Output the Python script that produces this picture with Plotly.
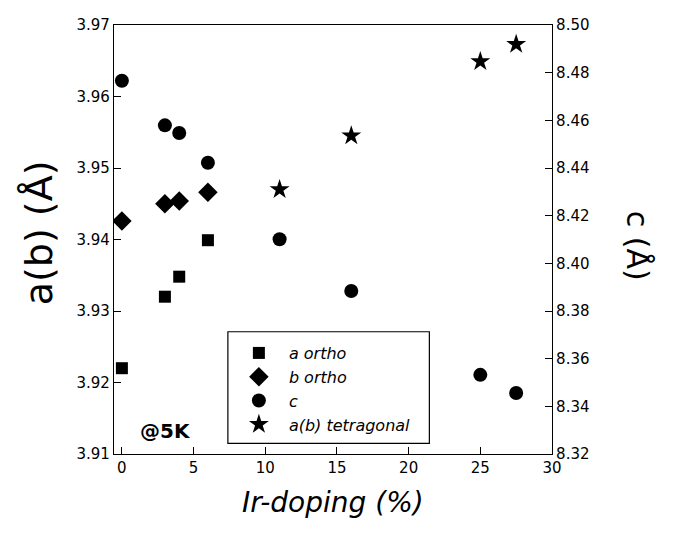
import plotly.graph_objects as go

# Data
a_ortho_x = [0, 3, 4, 6]
a_ortho_y = [3.9220, 3.9320, 3.9348, 3.9399]

b_ortho_x = [0, 3, 4, 6]
b_ortho_y = [3.9426, 3.9450, 3.9454, 3.9466]

c_x = [0, 3, 4, 6, 11, 16, 25, 27.5]
c_y = [8.4766, 8.4579, 8.4547, 8.4422, 8.4101, 8.3884, 8.3532, 8.3456]

tet_x = [11, 16, 25, 27.5]
tet_y = [3.9470, 3.9545, 3.9649, 3.9673]

x_ticks = [0, 5, 10, 15, 20, 25, 30]
left_ticks = [3.91, 3.92, 3.93, 3.94, 3.95, 3.96, 3.97]
right_ticks = [8.32, 8.34, 8.36, 8.38, 8.40, 8.42, 8.44, 8.46, 8.48, 8.50]

FONT = "DejaVu Sans"

fig = go.Figure()
fig.add_trace(go.Scatter(x=a_ortho_x, y=a_ortho_y, mode="markers", name="a ortho",
                         marker=dict(symbol="square", size=12, color="black")))
fig.add_trace(go.Scatter(x=b_ortho_x, y=b_ortho_y, mode="markers", name="b ortho",
                         marker=dict(symbol="diamond", size=15, color="black")))
fig.add_trace(go.Scatter(x=c_x, y=c_y, mode="markers", name="c", yaxis="y2",
                         marker=dict(symbol="circle", size=14, color="black")))
fig.add_trace(go.Scatter(x=tet_x, y=tet_y, mode="markers", name="a(b) tetragonal",
                         marker=dict(symbol="star", size=15, color="black")))

fig.update_layout(
    width=677, height=536,
    margin=dict(l=106, r=133, t=8, b=90),
    paper_bgcolor="white", plot_bgcolor="white",
    font=dict(family=FONT, size=15, color="black"),
    showlegend=True,
    legend=dict(x=0.26, y=0.275, xanchor="left", yanchor="top",
                bgcolor="rgba(0,0,0,0)", borderwidth=0,
                font=dict(family=FONT, size=16, style="italic"),
                itemwidth=50, indentation=1, tracegroupgap=0),
    xaxis=dict(range=[-0.55, 30.0001], tickvals=x_ticks, ticks="inside", ticklen=7,
               tickcolor="black", showline=True, linecolor="black", linewidth=1.2,
               mirror=True, showgrid=False, zeroline=False,
               ticklabeloverflow="allow", tickfont=dict(size=15)),
    yaxis=dict(range=[3.9099999, 3.9700001], tickvals=left_ticks, tickformat=".2f",
               ticks="inside", ticklen=7, tickcolor="black", showline=True,
               linecolor="black", linewidth=1.2, showgrid=False, zeroline=False,
               ticklabeloverflow="allow", tickfont=dict(size=15)),
    yaxis2=dict(range=[8.3199999, 8.5000001], tickvals=right_ticks, tickformat=".2f",
                overlaying="y", side="right", ticks="inside", ticklen=7,
                tickcolor="black", showline=True, linecolor="black", linewidth=1.2,
                showgrid=False, zeroline=False, ticklabeloverflow="allow",
                tickfont=dict(size=15)),
)

# legend frame
fig.add_shape(type="rect", xref="paper", yref="paper",
              x0=0.26, x1=0.72, y0=0.025, y1=0.285,
              line=dict(color="black", width=1.2), fillcolor="rgba(0,0,0,0)",
              layer="above")

fig.add_annotation(text="a(b) (Å)", xref="paper", yref="paper",
                   x=-0.172, y=0.516, xanchor="center", yanchor="middle",
                   textangle=-90, showarrow=False,
                   font=dict(family=FONT, size=38))
fig.add_annotation(text="c (Å)", xref="paper", yref="paper",
                   x=1.196, y=0.486, xanchor="center", yanchor="middle",
                   textangle=90, showarrow=False,
                   font=dict(family=FONT, size=30))
fig.add_annotation(text="<i>Ir-doping (%)</i>", xref="paper", yref="paper",
                   x=0.5, y=-0.114, xanchor="center", yanchor="middle",
                   showarrow=False, font=dict(family=FONT, size=28))
fig.add_annotation(text="<b>@5K</b>", xref="paper", yref="paper",
                   x=0.118, y=0.053, xanchor="center", yanchor="middle",
                   showarrow=False, font=dict(family=FONT, size=20))

fig.write_html("out.html")
